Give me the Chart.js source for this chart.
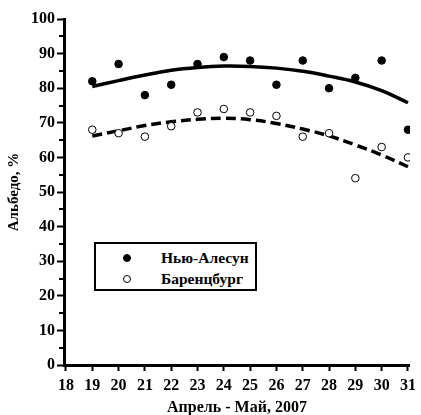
<!DOCTYPE html>
<html>
<head>
<meta charset="utf-8">
<script src="https://cdn.jsdelivr.net/npm/chart.js@4"></script>
<style>
    body { margin: 0; background: #fff; }
    #wrap { position: relative; width: 421px; height: 415px; }
    #legend {
        position: absolute; left: 94px; top: 242px; width: 159px; height: 45px;
        border: 2px solid #000; background: #fff;
        font: bold 15.5px 'Liberation Serif', 'Times New Roman', serif; color: #000;
    }
    #legend .row { position: absolute; left: 0; height: 18px; line-height: 18px; white-space: nowrap; }
    #legend .dot {
        position: absolute; left: 27px; top: 5px; width: 8px; height: 8px;
        border-radius: 50%; border: 1px solid #000; box-sizing: border-box;
    }
    #legend .txt { position: absolute; left: 65px; top: 0; }
</style>
</head>
<body>
<div id="wrap">
    <canvas id="albedoChart" width="421" height="415"></canvas>
    <div id="legend"></div>
</div>
<script>
const days = [19, 20, 21, 22, 23, 24, 25, 26, 27, 28, 29, 30, 31];
const xTicks = [18, 19, 20, 21, 22, 23, 24, 25, 26, 27, 28, 29, 30, 31];
const yTicks = [0, 10, 20, 30, 40, 50, 60, 70, 80, 90, 100];
const yMinorTicks = [5, 15, 25, 35, 45, 55, 65, 75, 85, 95];

const nyAlesund = [82, 87, 78, 81, 87, 89, 88, 81, 88, 80, 83, 88, 68];
const barentsburg = [68, 67, 66, 69, 73, 74, 73, 72, 66, 67, 54, 63, 60];
const nyAlesundTrend = [80.5, 82.2, 83.8, 85.2, 86.0, 86.4, 86.3, 85.8, 84.9, 83.5, 81.8, 79.3, 75.8];
const barentsburgTrend = [66.2, 67.7, 69.2, 70.3, 71.0, 71.3, 70.9, 69.8, 68.2, 66.2, 63.6, 60.7, 57.3];

const seriesLabels = ['Нью-Алесун', 'Баренцбург'];

const serif = "'Liberation Serif', 'Times New Roman', serif";

const toPoints = (values) => days.map((d, i) => ({ x: d, y: values[i] }));

const minorTicks = {
    id: 'minorTicks',
    afterDraw(chart) {
        const ctx = chart.ctx;
        const y = chart.scales.y;
        const left = chart.chartArea.left;
        ctx.save();
        ctx.strokeStyle = '#000';
        ctx.lineWidth = 2;
        yMinorTicks.forEach(v => {
            const py = Math.round(y.getPixelForValue(v));
            ctx.beginPath();
            ctx.moveTo(left - 5, py);
            ctx.lineTo(left, py);
            ctx.stroke();
        });
        ctx.restore();
    }
};

const ctx = document.querySelector('#albedoChart').getContext('2d');

new Chart(ctx, {
    type: 'scatter',
    data: {
        datasets: [
            {
                label: seriesLabels[0],
                data: toPoints(nyAlesund),
                backgroundColor: '#000',
                borderColor: '#000',
                borderWidth: 1,
                pointRadius: 3.8,
                order: 0
            },
            {
                label: seriesLabels[1],
                data: toPoints(barentsburg),
                backgroundColor: '#fff',
                borderColor: '#000',
                borderWidth: 1,
                pointRadius: 3.8,
                order: 0
            },
            {
                label: 'trend1',
                type: 'line',
                data: toPoints(nyAlesundTrend),
                borderColor: '#000',
                borderWidth: 3.5,
                pointRadius: 0,
                tension: 0.4,
                fill: false,
                order: 1
            },
            {
                label: 'trend2',
                type: 'line',
                data: toPoints(barentsburgTrend),
                borderColor: '#000',
                borderWidth: 3.5,
                borderDash: [10, 5],
                pointRadius: 0,
                tension: 0.4,
                fill: false,
                order: 1
            }
        ]
    },
    options: {
        responsive: false,
        animation: false,
        layout: { padding: { top: 19, right: 6, left: 0, bottom: 0 } },
        plugins: {
            legend: { display: false },
            tooltip: { enabled: false }
        },
        scales: {
            x: {
                type: 'linear',
                min: 17.925,
                max: 31.075,
                afterFit: scale => { scale.height = 50; },
                afterBuildTicks: scale => { scale.ticks = xTicks.map(v => ({ value: v })); },
                border: { display: true, color: '#000', width: 3 },
                grid: { drawOnChartArea: false, drawTicks: true, tickLength: 6, tickWidth: 2, tickColor: '#000' },
                ticks: {
                    color: '#000',
                    padding: 5,
                    maxRotation: 0,
                    autoSkip: false,
                    font: { family: serif, size: 16, weight: 'bold' }
                },
                title: {
                    display: true,
                    text: 'Апрель - Май, 2007',
                    color: '#000',
                    padding: { top: 0, bottom: -1 },
                    font: { family: serif, size: 16, weight: 'bold', lineHeight: 1 }
                }
            },
            y: {
                min: 0,
                max: 100,
                afterFit: scale => { scale.width = 64; },
                afterBuildTicks: scale => { scale.ticks = yTicks.map(v => ({ value: v })); },
                border: { display: true, color: '#000', width: 3 },
                grid: { drawOnChartArea: false, drawTicks: true, tickLength: 7, tickWidth: 2, tickColor: '#000' },
                ticks: {
                    color: '#000',
                    padding: 2,
                    font: { family: serif, size: 16, weight: 'bold' }
                },
                title: {
                    display: true,
                    text: 'Альбедо, %',
                    color: '#000',
                    padding: { top: 5, bottom: 0 },
                    font: { family: serif, size: 15, weight: 'bold' }
                }
            }
        }
    },
    plugins: [minorTicks]
});

// legend box inside the plot, like the original figure
const legend = document.querySelector('#legend');
const markerFills = ['#000', '#fff'];
seriesLabels.forEach((label, i) => {
    const row = document.createElement('div');
    row.className = 'row';
    row.style.top = (5 + i * 21) + 'px';
    row.style.width = '100%';
    const dot = document.createElement('span');
    dot.className = 'dot';
    dot.style.background = markerFills[i];
    const txt = document.createElement('span');
    txt.className = 'txt';
    txt.textContent = label;
    row.appendChild(dot);
    row.appendChild(txt);
    legend.appendChild(row);
});
</script>
</body>
</html>
